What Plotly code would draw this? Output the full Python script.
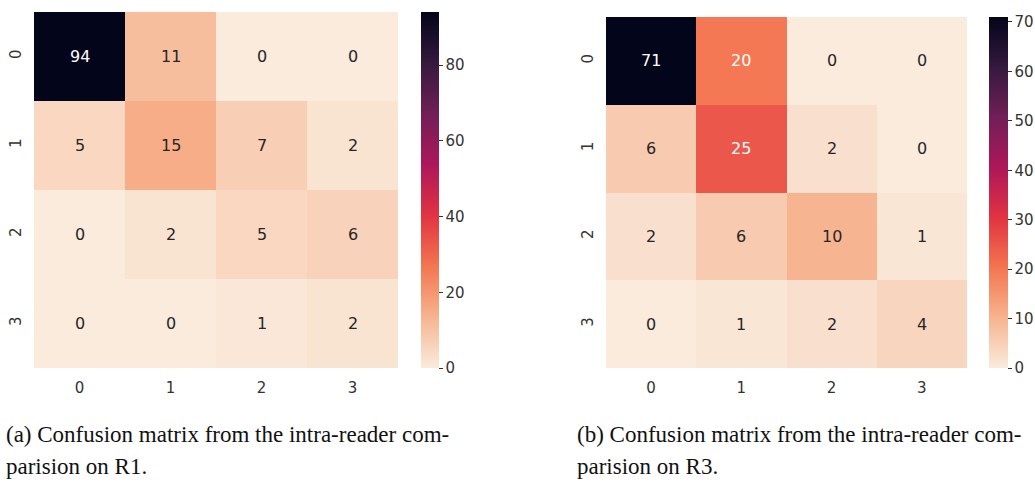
import plotly.graph_objects as go

# Confusion matrices (rows: first reading, columns: second reading)
labels = [0, 1, 2, 3]
cm_r1 = [
    [94, 11, 0, 0],
    [5, 15, 7, 2],
    [0, 2, 5, 6],
    [0, 0, 1, 2],
]
cm_r3 = [
    [71, 20, 0, 0],
    [6, 25, 2, 0],
    [2, 6, 10, 1],
    [0, 1, 2, 4],
]
cbar_ticks_r1 = [0, 20, 40, 60, 80]
cbar_ticks_r3 = [0, 10, 20, 30, 40, 50, 60, 70]
captions = [
    ["(a) Confusion matrix from the intra-reader com-", "parision on R1."],
    ["(b) Confusion matrix from the intra-reader com-", "parision on R3."],
]

W, H = 1035, 482

# seaborn "rocket" reversed (light at low values)
rocket_r = [
    (0.0, "#faebdd"),
    (1 / 7, "#f6b48f"),
    (2 / 7, "#f37651"),
    (3 / 7, "#e13342"),
    (4 / 7, "#ad1759"),
    (5 / 7, "#701f57"),
    (6 / 7, "#35193e"),
    (1.0, "#03051a"),
]


def hex_rgb(h):
    h = h.lstrip("#")
    return [int(h[i:i + 2], 16) / 255 for i in (0, 2, 4)]


def color_at(t):
    for (t0, c0), (t1, c1) in zip(rocket_r[:-1], rocket_r[1:]):
        if t0 <= t <= t1:
            f = (t - t0) / (t1 - t0) if t1 > t0 else 0
            a, b = hex_rgb(c0), hex_rgb(c1)
            return [a[i] + f * (b[i] - a[i]) for i in range(3)]
    return hex_rgb(rocket_r[-1][1])


def luminance(rgb):
    lin = [c / 12.92 if c <= 0.03928 else ((c + 0.055) / 1.055) ** 2.4 for c in rgb]
    return 0.2126 * lin[0] + 0.7152 * lin[1] + 0.0722 * lin[2]


def px_x(p):
    return p / W


def px_y(p):
    return 1 - p / H


panels = [
    # matrix, ticks, plot box (left, right, top, bottom) in px, colorbar left px, width
    (cm_r1, cbar_ticks_r1, (34, 398, 12, 368), 421, 18),
    (cm_r3, cbar_ticks_r3, (606, 967, 17, 368), 989, 19),
]

fig = go.Figure()
annotations = []
tick_font = dict(family="DejaVu Sans", size=15, color="#333333")

for k, (cm, cticks, (l, r, t, b), cb_left, cb_w) in enumerate(panels):
    n = k + 1
    xa = "x" if n == 1 else f"x{n}"
    ya = "y" if n == 1 else f"y{n}"
    vmax = max(max(row) for row in cm)
    fig.add_trace(go.Heatmap(
        z=cm, x=labels, y=labels,
        xaxis=xa, yaxis=ya,
        zmin=0, zmax=vmax,
        colorscale=[[p, c] for p, c in rocket_r],
        xgap=0, ygap=0,
        hoverinfo="skip",
        colorbar=dict(
            x=px_x(cb_left), xanchor="left", xref="paper",
            y=px_y(t), yanchor="top", yref="paper",
            lenmode="pixels", len=b - t,
            thickness=cb_w, thicknessmode="pixels",
            outlinewidth=0, xpad=0, ypad=0,
            tickmode="array", tickvals=cticks,
            ticks="outside", ticklen=4, tickwidth=1, tickcolor="#333333",
            tickfont=tick_font,
        ),
    ))
    axis_common = dict(
        tickmode="array", tickvals=labels, ticktext=[str(v) for v in labels],
        showgrid=False, zeroline=False, showline=False,
        ticks="outside", ticklen=6, tickcolor="rgba(0,0,0,0)",
        tickfont=tick_font,
    )
    fig.update_layout(**{
        ("xaxis" if n == 1 else f"xaxis{n}"): dict(
            domain=[px_x(l), px_x(r)], anchor=ya, range=[-0.5, 3.5], **axis_common),
        ("yaxis" if n == 1 else f"yaxis{n}"): dict(
            domain=[px_y(b), px_y(t)], anchor=xa, range=[3.5, -0.5],
            tickangle=-90, **axis_common),
    })
    for i, row in enumerate(cm):
        for j, v in enumerate(row):
            lum = luminance(color_at(v / vmax))
            annotations.append(dict(
                x=labels[j], y=labels[i], xref=xa, yref=ya,
                text=str(v), showarrow=False,
                font=dict(family="DejaVu Sans", size=16,
                          color="#ffffff" if lum < 0.408 else "#262626"),
            ))

# captions under each panel
caption_left = [4, 575]
caption_rows = [434, 466]
for k, lines in enumerate(captions):
    for line, yc in zip(lines, caption_rows):
        annotations.append(dict(
            x=px_x(caption_left[k]), y=px_y(yc), xref="paper", yref="paper",
            xanchor="left", yanchor="middle", text=line, showarrow=False,
            font=dict(family="Liberation Serif", size=23, color="#111111"),
        ))

fig.update_layout(
    width=W, height=H,
    margin=dict(l=0, r=0, t=0, b=0),
    paper_bgcolor="white", plot_bgcolor="white",
    annotations=annotations,
    showlegend=False,
)

fig.write_html("out.html")
